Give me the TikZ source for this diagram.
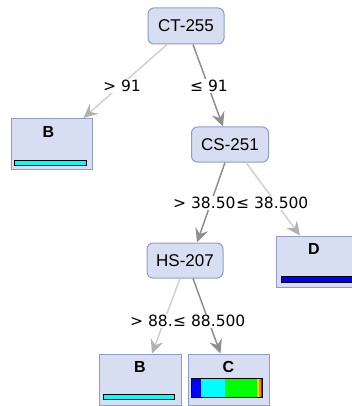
\documentclass[tikz,border=0pt]{standalone}
\usepackage{fontspec}
\setmainfont{Liberation Sans}
\newfontfamily\lblfont{DejaVu Sans}
\usetikzlibrary{arrows.meta,calc}
\definecolor{nfill}{HTML}{D7DEF1}
\definecolor{nline}{HTML}{8E9DC6}
\definecolor{elight}{HTML}{D0D0D0}
\definecolor{edark}{HTML}{8F8F8F}
\definecolor{barcyan}{HTML}{00FFFF}
\definecolor{barblue}{HTML}{0000FF}
\definecolor{bargreen}{HTML}{00FF00}
\definecolor{baryellow}{HTML}{FFE000}
\definecolor{barorange}{HTML}{FF8000}
\definecolor{barred}{HTML}{FF0000}
\tikzset{
 inner/.style={draw=nline, fill=nfill, rounded corners=6pt, minimum width=76pt, minimum height=36pt, inner sep=0pt, font=\fontsize{17}{20}\selectfont, line width=1pt},
 leaf/.style={draw=nline, fill=nfill, minimum width=81pt, minimum height=51pt, inner sep=0pt, line width=1pt},
 leaflbl/.style={font=\fontsize{16}{19}\selectfont\bfseries, anchor=north, inner sep=0pt},
 lightedge/.style={draw=elight, line width=1.5pt, -{Stealth[length=14pt,width=13pt,inset=5pt,color=elight!85!black]}},
 darkedge/.style={draw=edark, line width=1.5pt, -{Stealth[length=14pt,width=13pt,inset=5pt]}},
 elbl/.style={fill=white, inner sep=1pt, font=\lblfont\fontsize{15.5}{18}\selectfont, anchor=west},
 barframe/.style={draw=black, line width=0.9pt}
}
\begin{document}
\begin{tikzpicture}[x=1pt,y=-1pt]
\useasboundingbox (0,0) rectangle (352,406);
\clip (0,0) rectangle (352,406);
% nodes
\node[inner] (ct) at (186,26) {CT-255};
\node[leaf] (b1) at (51.5,144) {};
\node[inner, minimum width=77pt, minimum height=35pt] (cs) at (230,144.5) {CS-251};
\node[inner, minimum height=35pt] (hs) at (185,260.5) {HS-207};
\node[leaf] (d) at (317,261.5) {};
\node[leaf, minimum width=82pt] (b2) at (140,379.5) {};
\node[leaf] (c) at (228.5,379.5) {};
% leaf labels
\node[leaflbl] (b1l) at ($(b1.north)+(-3,8)$) {B};
\node[leaflbl] (dl) at ($(d.north)+(-3,8)$) {D};
\node[leaflbl] (b2l) at ($(b2.north)+(0,8)$) {B};
\node[leaflbl] (cl) at ($(c.north)+(0,8)$) {C};
% bars
\fill[barcyan] ($(b1.south west)+(4,-5)$) rectangle ($(b1.south east)+(-6,-10)$);
\draw[barframe] ($(b1.south west)+(4,-5)$) rectangle ($(b1.south east)+(-6,-10)$);
\fill[barblue] ($(d.south west)+(5,-5)$) rectangle ($(d.south east)+(-6,-11)$);
\draw[barframe] ($(d.south west)+(5,-5)$) rectangle ($(d.south east)+(-6,-11)$);
\fill[barcyan] ($(b2.south west)+(5,-6)$) rectangle ($(b2.south east)+(-7,-11)$);
\draw[barframe] ($(b2.south west)+(5,-6)$) rectangle ($(b2.south east)+(-7,-11)$);
\fill[barblue] ($(c.south west)+(4,-8)$) rectangle ($(c.south west)+(13,-27)$);
\fill[barcyan] ($(c.south west)+(13,-8)$) rectangle ($(c.south west)+(37,-27)$);
\fill[bargreen] ($(c.south west)+(37,-8)$) rectangle ($(c.south west)+(69,-27)$);
\fill[baryellow] ($(c.south west)+(69,-8)$) rectangle ($(c.south west)+(71,-27)$);
\fill[barorange] ($(c.south west)+(71,-8)$) rectangle ($(c.south west)+(73,-27)$);
\fill[barred] ($(c.south west)+(73,-8)$) rectangle ($(c.south west)+(75,-27)$);
\draw[barframe] ($(c.south west)+(4,-8)$) rectangle ($(c.south west)+(75,-27)$);
% edges
\draw[lightedge] ($(ct.south)+(-19,0)$) -- ($(b1.north)+(32,0)$);
\draw[darkedge] ($(ct.south)+(7,0)$) -- ($(cs.north)+(-7,0)$);
\draw[darkedge] ($(cs.south)+(-5,0)$) -- ($(hs.north)+(12,0)$);
\draw[lightedge] ($(cs.south)+(16,0)$) -- ($(d.north)+(-17,0)$);
\draw[lightedge] ($(hs.south)+(-5,0)$) -- ($(b2.north)+(12,0)$);
\draw[darkedge] ($(hs.south)+(8,0)$) -- ($(c.north)+(-8,0)$);
% edge labels
\node[elbl] (l1) at (102,86) {> 91};
\node[elbl] (l2) at (189,86) {≤ 91};
\node[elbl] (l3) at (172,203) {> 38.500};
\node[elbl] (l4) at (235,203) {≤ 38.500};
\node[elbl] (l5) at (129,321) {> 88.500};
\node[elbl] (l6) at (172,321) {≤ 88.500};
\end{tikzpicture}
\end{document}
